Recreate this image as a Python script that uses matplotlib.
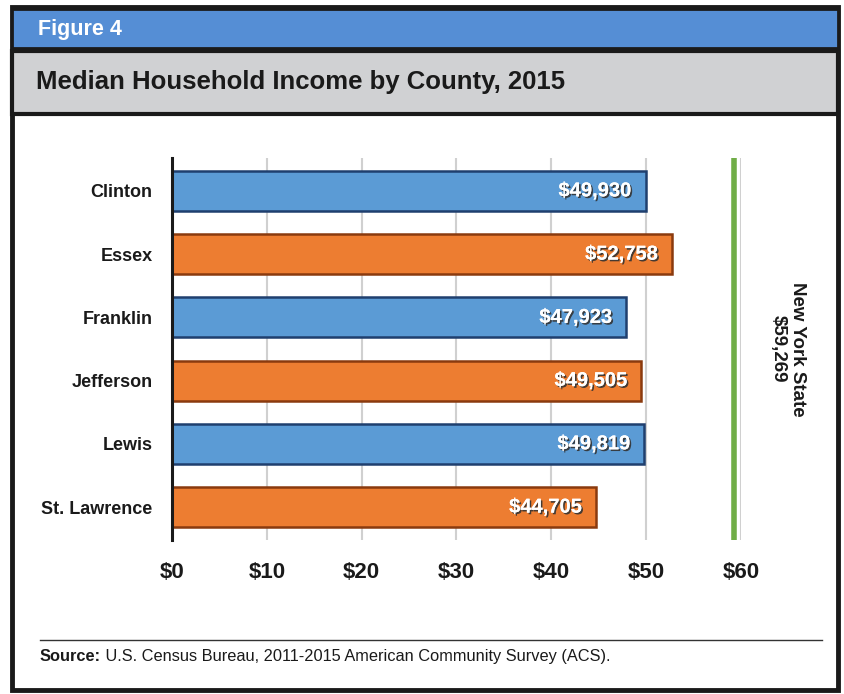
import matplotlib.pyplot as plt
import matplotlib.patheffects as pe
from matplotlib.patches import Rectangle
from matplotlib import font_manager

# County median household income, 2015
counties = ["Clinton", "Essex", "Franklin", "Jefferson", "Lewis", "St. Lawrence"]
incomes = [49930, 52758, 47923, 49505, 49819, 44705]
state_income = 59269
tick_values = [0, 10, 20, 30, 40, 50, 60]
tick_labels = ["$0", "$10", "$20", "$30", "$40", "$50", "$60"]

names = {f.name for f in font_manager.fontManager.ttflist}
narrow = "Liberation Sans Narrow" if "Liberation Sans Narrow" in names else "Liberation Sans"
plt.rcParams['font.family'] = [narrow, 'DejaVu Sans']

blue = "#5B9BD5"
orange = "#ED7D31"
fill = [blue if i % 2 == 0 else orange for i in range(len(counties))]
edges = ["#1F3F6E" if i % 2 == 0 else "#8A3A0E" for i in range(len(counties))]

W, H = 845, 694
fig = plt.figure(figsize=(W / 100, H / 100), dpi=100)

def fx(px):
    return px / W

def fy(py):
    return 1 - py / H

# frame, header bands
fig.patches.append(Rectangle((fx(12), fy(690)), fx(826), 683 / H,
                             transform=fig.transFigure, facecolor="white",
                             edgecolor="#1a1a1a", linewidth=3.5, zorder=-2))
fig.patches.append(Rectangle((fx(12), fy(48)), fx(826), 39 / H,
                             transform=fig.transFigure, facecolor="#558ED5",
                             edgecolor="#1a1a1a", linewidth=2, zorder=-1))
fig.patches.append(Rectangle((fx(12), fy(114)), fx(826), 63 / H,
                             transform=fig.transFigure, facecolor="#D0D1D3",
                             edgecolor="#1a1a1a", linewidth=3, zorder=-1))
fig.text(fx(38), fy(29), "Figure 4", color="white", fontsize=15.5,
         fontweight="bold", va="center", ha="left")
fig.text(fx(36), fy(82), "Median Household Income by County, 2015",
         color="#1a1a1a", fontsize=18.5, fontweight="bold", va="center", ha="left")

ax = fig.add_axes([fx(172), fy(540), fx(741) - fx(172), (540 - 158) / H])
ax.set_zorder(2)
ax.patch.set_alpha(0)
y = list(range(len(counties)))
vals = [v / 1000 for v in incomes]
ax.barh(y, vals, height=0.63, color=fill, edgecolor=edges, linewidth=1.8, zorder=3)
ax.set_ylim(len(counties) - 0.48, -0.52)
ax.set_xlim(0, 60)
ax.set_xticks(tick_values)
ax.set_xticklabels(tick_labels)
ax.set_yticks(y)
ax.set_yticklabels(counties)
ax.tick_params(axis="x", length=0, pad=16, labelsize=16, labelcolor="#1a1a1a")
ax.tick_params(axis="y", length=0, pad=14, labelsize=13, labelcolor="#1a1a1a")
for lab in ax.get_xticklabels() + ax.get_yticklabels():
    lab.set_fontweight("bold")
ax.grid(axis="x", color="#D0D0D0", linewidth=1.5, zorder=0)
for s in ["top", "right", "bottom"]:
    ax.spines[s].set_visible(False)
ax.spines["left"].set_linewidth(2.2)
ax.spines["left"].set_color("#1a1a1a")
ax.spines["left"].set_zorder(4)

shadow = [pe.withSimplePatchShadow(offset=(1.2, -1.2), shadow_rgbFace="#333333", alpha=0.9),
          pe.Normal()]
for yi, v in zip(y, incomes):
    ax.text(v / 1000 - 1.5, yi, "${:,}".format(v), ha="right", va="center",
            color="white", fontsize=14.5, fontweight="bold", zorder=5,
            path_effects=shadow)

ax.axvline(state_income / 1000, color="#70AD47", linewidth=4, zorder=4)
ax.text(1.083, 0.5, "New York State\n${:,}".format(state_income),
        transform=ax.transAxes, rotation=-90, ha="center", va="center",
        fontsize=13.5, fontweight="bold", color="#1a1a1a", linespacing=1.15)

# source note: bold lead-in, plain text continues on the same baseline
fig.add_artist(plt.Line2D([fx(40), fx(822)], [fy(640), fy(640)],
                          transform=fig.transFigure, color="#333333", linewidth=1))
src = fig.text(fx(40), fy(661), "Source:", fontsize=11.8, fontweight="bold",
               va="baseline", ha="left", color="#1a1a1a")
fig.canvas.draw()
x_end = src.get_window_extent().x1 / fig.bbox.width
fig.text(x_end, fy(661), " U.S. Census Bureau, 2011-2015 American Community Survey (ACS).",
         fontsize=11.8, va="baseline", ha="left", color="#1a1a1a")

fig.savefig("out.png", dpi=100)
